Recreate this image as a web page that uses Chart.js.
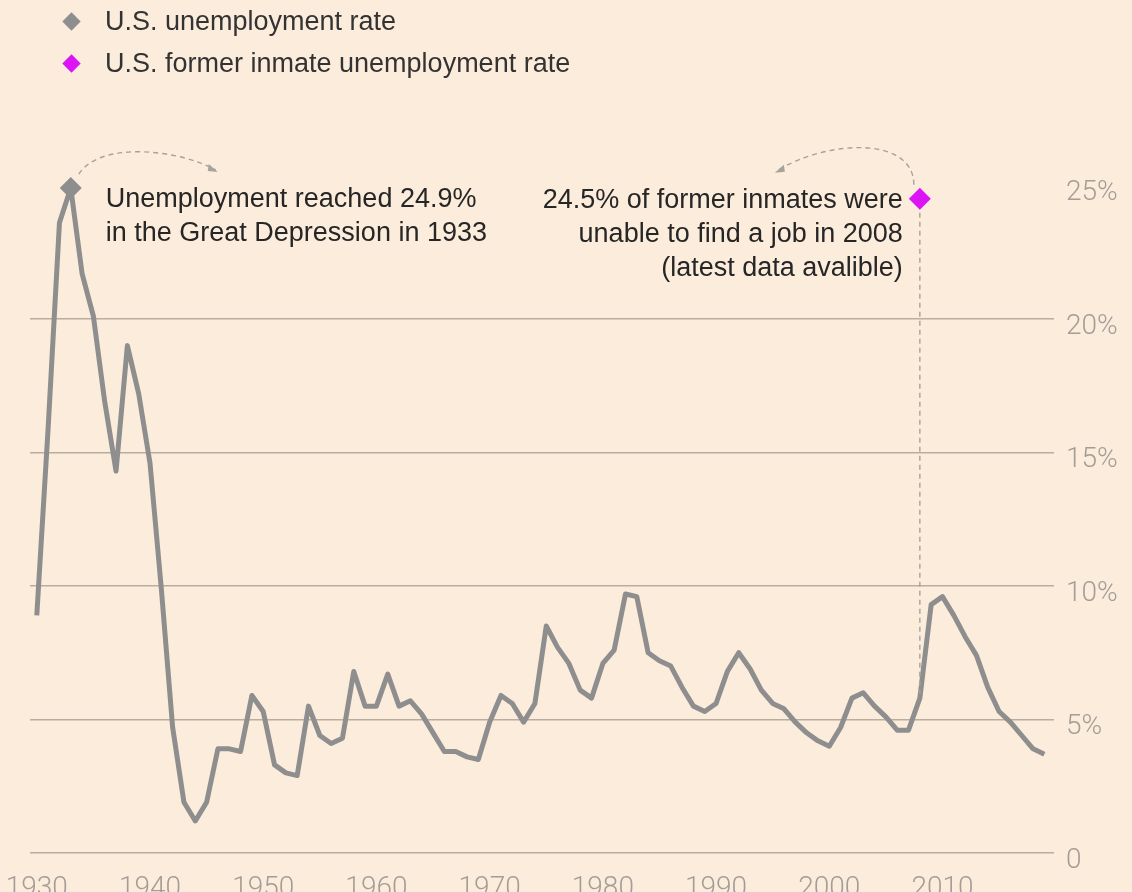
<!DOCTYPE html>
<html>
<head>
<meta charset="utf-8">
<script src="https://cdn.jsdelivr.net/npm/chart.js@4"></script>
<style>
  html, body { margin: 0; padding: 0; background: #fcecdc; overflow: hidden; }
  #wrap { position: relative; width: 1132px; height: 892px; }
  #legend { position: absolute; left: 60px; top: 0; font-family: 'Liberation Sans', Arial, sans-serif; font-size: 27px; color: #333; }
  #legend div { display: flex; align-items: center; height: 42px; }
  #legend i { display: inline-block; width: 13px; height: 13px; transform: rotate(45deg); margin: 0 27px 0 5px; }
</style>
</head>
<body>
<div id="wrap">
  <canvas id="chart"></canvas>
  <div id="legend">
    <div><i style="background:#8e8e8e"></i>U.S. unemployment rate</div>
    <div><i style="background:#dc14f5"></i>U.S. former inmate unemployment rate</div>
  </div>
</div>
<script>
const years = [
  1930, 1931, 1932, 1933, 1934, 1935, 1936, 1937, 1938, 1939,
  1940, 1941, 1942, 1943, 1944, 1945, 1946, 1947, 1948, 1949,
  1950, 1951, 1952, 1953, 1954, 1955, 1956, 1957, 1958, 1959,
  1960, 1961, 1962, 1963, 1964, 1965, 1966, 1967, 1968, 1969,
  1970, 1971, 1972, 1973, 1974, 1975, 1976, 1977, 1978, 1979,
  1980, 1981, 1982, 1983, 1984, 1985, 1986, 1987, 1988, 1989,
  1990, 1991, 1992, 1993, 1994, 1995, 1996, 1997, 1998, 1999,
  2000, 2001, 2002, 2003, 2004, 2005, 2006, 2007, 2008, 2009,
  2010, 2011, 2012, 2013, 2014, 2015, 2016, 2017, 2018, 2019,
];
const unemployment = [
  8.9, 15.9, 23.6, 24.9, 21.7, 20.1, 16.9, 14.3, 19.0, 17.2,
  14.6, 9.9, 4.7, 1.9, 1.2, 1.9, 3.9, 3.9, 3.8, 5.9,
  5.3, 3.3, 3.0, 2.9, 5.5, 4.4, 4.1, 4.3, 6.8, 5.5,
  5.5, 6.7, 5.5, 5.7, 5.2, 4.5, 3.8, 3.8, 3.6, 3.5,
  4.9, 5.9, 5.6, 4.9, 5.6, 8.5, 7.7, 7.1, 6.1, 5.8,
  7.1, 7.6, 9.7, 9.6, 7.5, 7.2, 7.0, 6.2, 5.5, 5.3,
  5.6, 6.8, 7.5, 6.9, 6.1, 5.6, 5.4, 4.9, 4.5, 4.2,
  4.0, 4.7, 5.8, 6.0, 5.5, 5.1, 4.6, 4.6, 5.8, 9.3,
  9.6, 8.9, 8.1, 7.4, 6.2, 5.3, 4.9, 4.4, 3.9, 3.7,
];
const peakYear = 1933;
const peakRate = 24.9;
const inmateYear = 2008;
const inmateRate = 24.5;
const xTicks = [1930, 1940, 1950, 1960, 1970, 1980, 1990, 2000, 2010];
const yTicks = [0, 5, 10, 15, 20, 25];
const leftNote = ['Unemployment reached 24.9%', 'in the Great Depression in 1933'];
const rightNote = ['24.5% of former inmates were', 'unable to find a job in 2008', '(latest data avalible)'];

const GREY = '#8e8e8e';
const MAGENTA = '#dc14f5';
const LABEL = '#a39d97';

function dashedArrow(ctx, pts, tip, dir) {
  ctx.save();
  ctx.strokeStyle = '#a8a29c';
  ctx.lineWidth = 1.4;
  ctx.setLineDash([5, 4]);
  ctx.beginPath();
  ctx.moveTo(pts[0][0], pts[0][1]);
  ctx.bezierCurveTo(pts[1][0], pts[1][1], pts[2][0], pts[2][1], tip[0], tip[1]);
  ctx.stroke();
  ctx.setLineDash([]);
  ctx.fillStyle = '#a8a29c';
  ctx.beginPath();
  ctx.moveTo(tip[0] + dir * 2, tip[1] + 2);
  ctx.lineTo(tip[0] - dir * 7, tip[1] - 6);
  ctx.lineTo(tip[0] - dir * 8, tip[1] + 1);
  ctx.closePath();
  ctx.fill();
  ctx.restore();
}

const notes = {
  id: 'notes',
  afterDatasetsDraw(chart) {
    const { ctx, scales: { x, y } } = chart;
    const px = x.getPixelForValue(peakYear);
    const py = y.getPixelForValue(peakRate);
    const ix = x.getPixelForValue(inmateYear);
    const iy = y.getPixelForValue(inmateRate);
    const ly = y.getPixelForValue(unemployment[years.indexOf(inmateYear)]);

    ctx.save();
    ctx.font = '27px "Liberation Sans", Arial, sans-serif';
    ctx.fillStyle = '#262626';
    ctx.textBaseline = 'alphabetic';
    ctx.textAlign = 'left';
    leftNote.forEach((line, i) => ctx.fillText(line, px + 35, py + 19 + i * 34));
    ctx.textAlign = 'right';
    rightNote.forEach((line, i) => ctx.fillText(line, ix - 17, iy + 9 + i * 34));

    // vertical leader from the inmate marker down to the line
    ctx.strokeStyle = '#a8a29c';
    ctx.lineWidth = 1.4;
    ctx.setLineDash([5, 4]);
    ctx.beginPath();
    ctx.moveTo(ix, iy + 14);
    ctx.lineTo(ix, ly - 4);
    ctx.stroke();
    ctx.restore();

    dashedArrow(ctx, [[px + 8, py - 14], [px + 30, py - 48], [px + 110, py - 38]], [px + 145, py - 18], 1);
    dashedArrow(ctx, [[ix - 6, iy - 14], [ix - 6, iy - 62], [ix - 90, iy - 60]], [ix - 143, iy - 28], -1);
  },
};

new Chart(document.getElementById('chart'), {
  type: 'line',
  data: {
    datasets: [
      {
        label: 'U.S. unemployment rate',
        data: years.map((yr, i) => ({ x: yr, y: unemployment[i] })),
        borderColor: GREY,
        borderWidth: 5,
        borderJoinStyle: 'round',
        borderCapStyle: 'butt',
        pointRadius: 0,
        tension: 0,
      },
      {
        label: 'peak',
        type: 'scatter',
        data: [{ x: peakYear, y: peakRate }],
        pointStyle: 'rectRot',
        pointRadius: 11,
        backgroundColor: GREY,
        borderWidth: 0,
        clip: false,
      },
      {
        label: 'U.S. former inmate unemployment rate',
        type: 'scatter',
        data: [{ x: inmateYear, y: inmateRate }],
        pointStyle: 'rectRot',
        pointRadius: 11,
        backgroundColor: MAGENTA,
        borderWidth: 0,
        clip: false,
      },
    ],
  },
  options: {
    responsive: true,
    maintainAspectRatio: false,
    animation: false,
    layout: { padding: { left: 30, top: 132, right: 0, bottom: 0 } },
    plugins: {
      legend: { display: false },
      tooltip: { enabled: false },
    },
    scales: {
      x: {
        type: 'linear',
        min: 1929.4,
        max: 2019.85,
        afterBuildTicks: (scale) => { scale.ticks = xTicks.map((v) => ({ value: v })); },
        afterFit: (scale) => {
          scale.height = 39;
          scale.paddingLeft = 0;
          scale.paddingRight = 0;
        },
        grid: { display: false },
        border: { display: false },
        ticks: {
          color: LABEL,
          padding: 11,
          maxRotation: 0,
          font: { family: 'Roboto, "Liberation Sans", sans-serif', size: 28, weight: 300 },
          callback: (v) => String(v),
        },
      },
      y: {
        position: 'right',
        min: 0,
        max: 27,
        afterBuildTicks: (scale) => { scale.ticks = yTicks.map((v) => ({ value: v })); },
        afterFit: (scale) => { scale.width = 78; },
        grid: {
          color: (c) => (c.tick && c.tick.value === 25 ? 'rgba(0,0,0,0)' : '#b8ad9f'),
          lineWidth: 1.5,
          drawTicks: false,
        },
        border: { display: false },
        ticks: {
          color: LABEL,
          padding: 12,
          labelOffset: 8,
          font: { family: 'Roboto, "Liberation Sans", sans-serif', size: 28, weight: 300 },
          callback: (v) => (v === 0 ? '0' : v + '%'),
        },
      },
    },
  },
  plugins: [notes],
});
</script>
</body>
</html>
